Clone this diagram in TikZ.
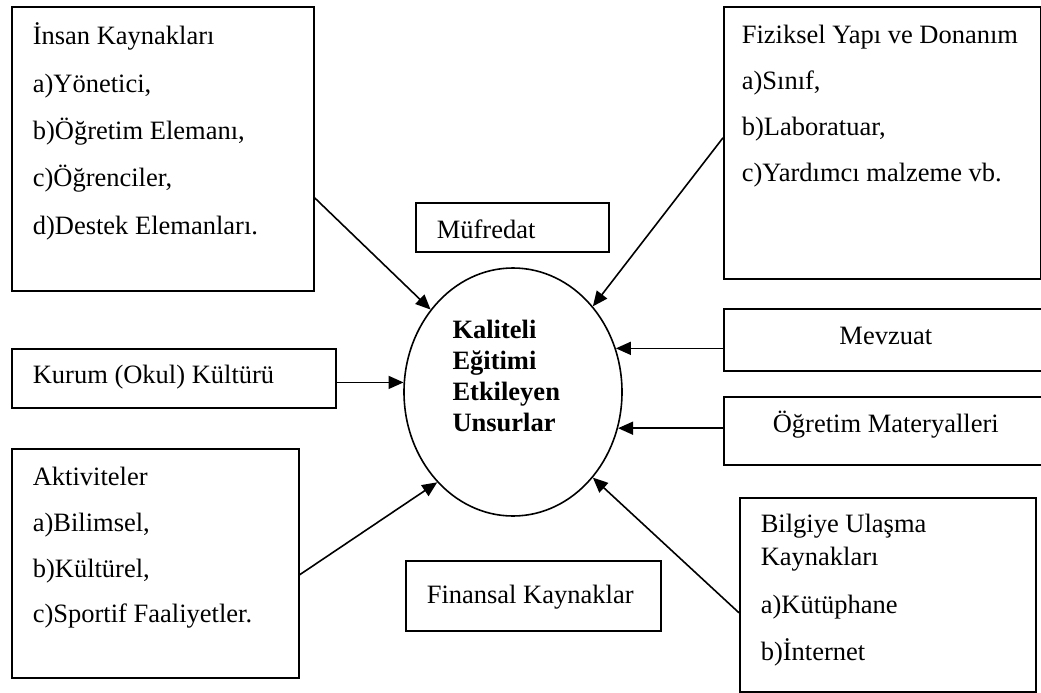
\documentclass[tikz,border=0pt]{standalone}
\usepackage{fontspec}
\setmainfont{Liberation Serif}
\usetikzlibrary{arrows.meta,positioning,shapes.geometric}
\newcommand{\yazi}[1]{\fontsize{26.5}{#1}\selectfont}

\begin{document}
\begin{tikzpicture}[x=1pt, y=-1pt,
  kutu/.style={draw, line width=1.6pt, anchor=north west, inner xsep=21pt, inner ysep=0pt, align=flush left},
  ok/.style={-{Triangle[length=15pt, width=13pt]}, line width=1.6pt},
]
  \useasboundingbox (0,0) rectangle (1041,693);

  % kutular
  \node[kutu, text width=260pt, text height=38pt, text depth=246pt, font=\yazi{47.4}] (insan) at (11,6) {İnsan Kaynakları\\a)Yönetici,\\b)Öğretim Elemanı,\\c)Öğrenciler,\\d)Destek Elemanları.};
  \node[kutu, inner xsep=18pt, text width=281pt, text height=37pt, text depth=235pt, font=\yazi{46}] (fiziksel) at (723,6) {Fiziksel Yapı ve Donanım\\a)Sınıf,\\b)Laboratuar,\\c)Yardımcı malzeme vb.};
  \node[kutu, text width=151pt, text height=36pt, text depth=13pt, font=\yazi{46}] (mufredat) at (415,202) {Müfredat};
  \node[kutu, text width=282pt, text height=35pt, text depth=24pt, font=\yazi{46}] (kurum) at (11,348) {Kurum (Okul) Kültürü};
  \node[kutu, align=flush center, text width=282pt, text height=36pt, text depth=26pt, font=\yazi{46}] (mevzuat) at (723,308) {Mevzuat};
  \node[kutu, align=flush center, text width=282pt, text height=36pt, text depth=32pt, font=\yazi{46}] (ogretim) at (723,396) {Öğretim Materyalleri};
  \node[kutu, text width=245pt, text height=37pt, text depth=192pt, font=\yazi{45.6}] (aktivite) at (11,448) {Aktiviteler\\a)Bilimsel,\\b)Kültürel,\\c)Sportif Faaliyetler.};
  \node[kutu, text width=213pt, text height=43pt, text depth=27pt, font=\yazi{46}] (finansal) at (405,560) {Finansal Kaynaklar};
  \node[kutu, text width=254pt, text height=35pt, text depth=159pt, font=\yazi{33}] (bilgiye) at (739,497) {Bilgiye Ulaşma\\Kaynakları\\[15pt]a)Kütüphane\\[14pt]b)İnternet};

  % merkez
  \node[ellipse, draw, line width=1.6pt, minimum width=218pt, minimum height=248pt, inner sep=0pt, text width=121pt, align=flush left, text height=18pt, text depth=126pt, font=\bfseries\yazi{31.3}] (merkez) at (513,392) {Kaliteli\\Eğitimi\\Etkileyen\\Unsurlar};

  % oklar
  \draw[ok] ([yshift=-49pt]insan.east) -- (merkez.135);
  \draw[ok] ([yshift=5pt]fiziksel.west) -- (merkez.47);
  \draw[ok] ([yshift=-11.5pt]aktivite.east) -- (merkez.230);
  \draw[ok] ([yshift=-18pt]bilgiye.west) -- (merkez.313);
  \foreach \kutu/\aci/\yan in {mevzuat/23/west, ogretim/341/west, kurum/175/east} {
    \draw[ok] (merkez.\aci -| \kutu.\yan) -- (merkez.\aci);
  }
\end{tikzpicture}
\end{document}
